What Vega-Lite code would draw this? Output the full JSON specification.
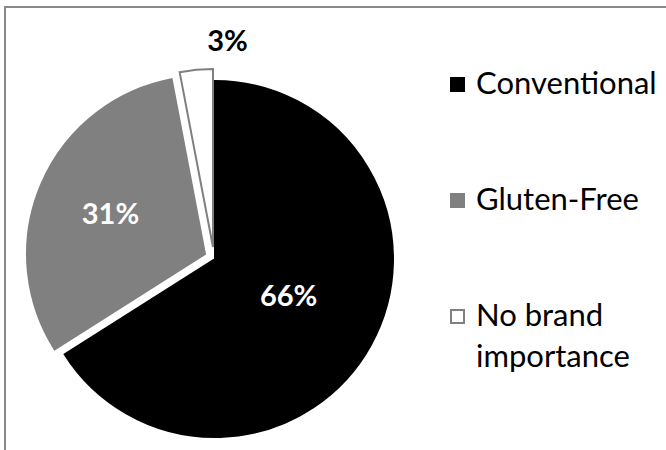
{
  "$schema": "https://vega.github.io/schema/vega-lite/v6.json",
  "width": 700,
  "height": 500,
  "autosize": {"type": "none"},
  "padding": {"left": 5, "top": 7, "right": 0, "bottom": 0},
  "background": "white",
  "view": {"stroke": "#898989", "strokeWidth": 2},
  "config": {"view": {"stroke": "#898989", "strokeWidth": 2}, "font": "Lato", "style": {"guide-label": {"lineHeight": 41}}},
  "data": {"values": [
    {"category": "Conventional", "value": 0.66},
    {"category": "Gluten-Free", "value": 0.31},
    {"category": "No brand importance", "value": 0.03}
  ]},
  "encoding": {
    "theta": {"field": "value", "type": "quantitative", "stack": true},
    "order": {"field": "category", "type": "nominal", "sort": "ascending"}
  },
  "layer": [
    {
      "mark": {"type": "arc", "outerRadius": 178, "strokeWidth": 2, "xOffset": -140, "yOffset": 2},
      "encoding": {
        "fill": {"field": "category", "type": "nominal",
          "scale": {"domain": ["Conventional", "Gluten-Free", "No brand importance"], "range": ["#000000", "#808080", "#ffffff"]},
          "legend": {"orient": "none", "legendX": 437, "legendY": 62, "title": null, "symbolType": "square", "symbolSize": 169, "symbolStrokeWidth": 2, "labelFont": "Lato", "labelFontSize": 31, "labelColor": "#000000", "labelOffset": 3, "rowPadding": 84, "padding": 0, "labelLimit": 300, "labelBaseline": "middle",
            "labelExpr": "datum.label === 'No brand importance' ? ['No brand', 'importance'] : datum.label"}},
        "stroke": {"field": "category", "type": "nominal",
          "scale": {"domain": ["Conventional", "Gluten-Free", "No brand importance"], "range": ["#000000", "#808080", "#808080"]},
          "legend": {"orient": "none", "legendX": 437, "legendY": 62, "title": null, "symbolType": "square", "symbolSize": 169, "symbolStrokeWidth": 2, "labelFont": "Lato", "labelFontSize": 31, "labelColor": "#000000", "labelOffset": 3, "rowPadding": 84, "padding": 0, "labelLimit": 300, "labelBaseline": "middle",
            "labelExpr": "datum.label === 'No brand importance' ? ['No brand', 'importance'] : datum.label"}},
        "opacity": {"condition": {"test": "datum.category === 'Conventional'", "value": 1}, "value": 0}
      }
    },
    {
      "mark": {"type": "arc", "outerRadius": 178, "strokeWidth": 2, "xOffset": -150, "yOffset": -3},
      "encoding": {
        "fill": {"field": "category", "type": "nominal"},
        "stroke": {"field": "category", "type": "nominal"},
        "opacity": {"condition": {"test": "datum.category === 'Gluten-Free'", "value": 1}, "value": 0}
      }
    },
    {
      "mark": {"type": "arc", "outerRadius": 178, "strokeWidth": 2, "xOffset": -142, "yOffset": -10},
      "encoding": {
        "fill": {"field": "category", "type": "nominal"},
        "stroke": {"field": "category", "type": "nominal"},
        "opacity": {"condition": {"test": "datum.category === 'No brand importance'", "value": 1}, "value": 0}
      }
    },
    {
      "mark": {"type": "text", "radius": 84, "font": "Lato", "fontSize": 29, "fontWeight": "bold", "color": "#ffffff", "xOffset": -140, "yOffset": 0},
      "encoding": {
        "detail": {"field": "category", "type": "nominal"},
        "text": {"field": "value", "type": "quantitative", "format": ".0%"},
        "opacity": {"condition": {"test": "datum.category === 'Conventional'", "value": 1}, "value": 0}
      }
    },
    {
      "mark": {"type": "text", "radius": 103, "font": "Lato", "fontSize": 29, "fontWeight": "bold", "color": "#ffffff", "xOffset": -150, "yOffset": -1},
      "encoding": {
        "detail": {"field": "category", "type": "nominal"},
        "text": {"field": "value", "type": "quantitative", "format": ".0%"},
        "opacity": {"condition": {"test": "datum.category === 'Gluten-Free'", "value": 1}, "value": 0}
      }
    },
    {
      "mark": {"type": "text", "radius": 207, "dx": 34, "font": "Lato", "fontSize": 29, "fontWeight": "bold", "color": "#000000", "xOffset": -142, "yOffset": -9},
      "encoding": {
        "detail": {"field": "category", "type": "nominal"},
        "text": {"field": "value", "type": "quantitative", "format": ".0%"},
        "opacity": {"condition": {"test": "datum.category === 'No brand importance'", "value": 1}, "value": 0}
      }
    }
  ]
}
